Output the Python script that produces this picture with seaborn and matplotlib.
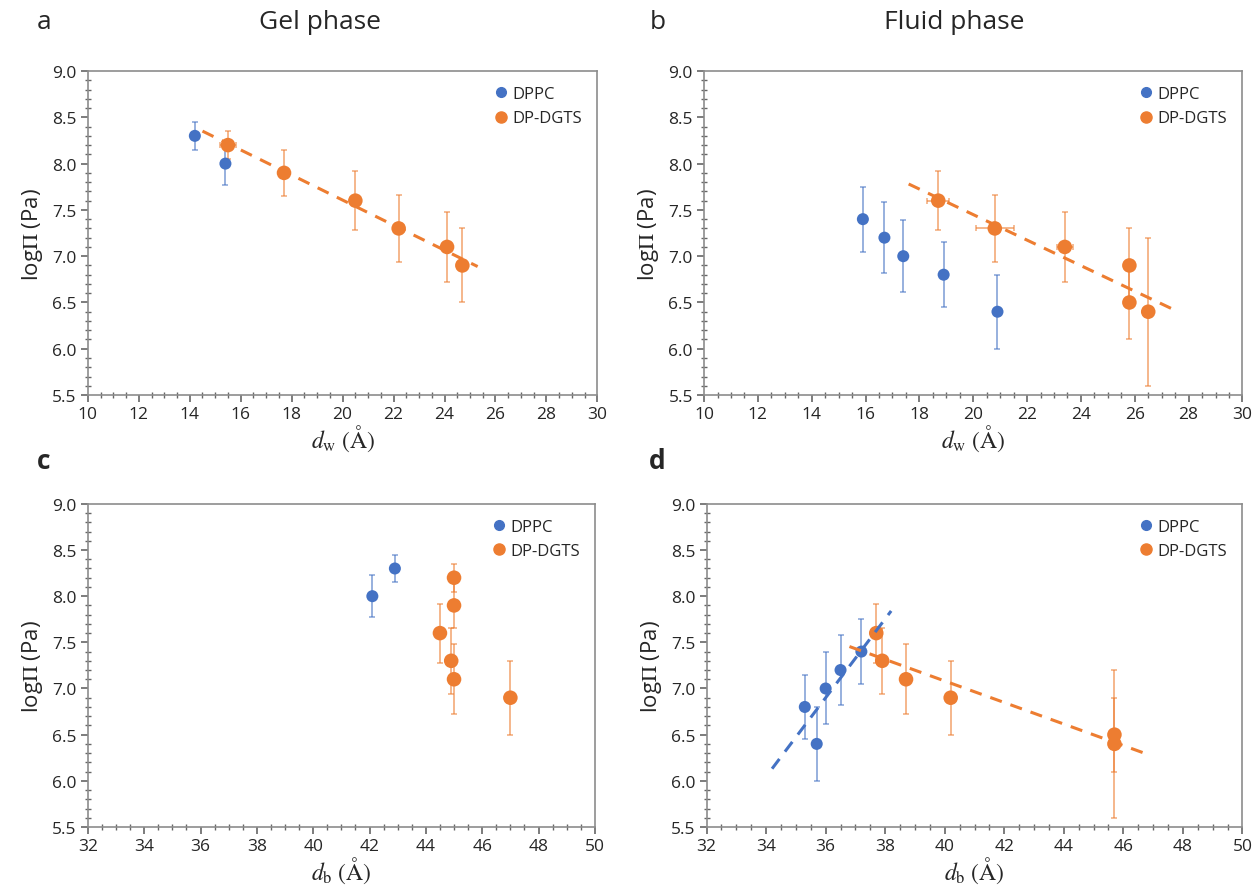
import numpy as np
import pandas as pd
import seaborn as sns
import matplotlib.pyplot as plt
from matplotlib.ticker import MultipleLocator
from matplotlib.lines import Line2D

sns.set_theme(style="white")
plt.rcParams['font.family'] = ['Open Sans', 'DejaVu Sans']
plt.rcParams['mathtext.fontset'] = 'stix'

BLUE = '#4472C4'
ORANGE = '#ED7D31'

# ---- data ----
# a: gel phase vs d_w
a_dppc_x = [14.2, 15.4]
a_dppc_y = [8.3, 8.0]
a_dppc_e = [0.15, 0.23]
a_dgts_x = [15.5, 17.7, 20.5, 22.2, 24.1, 24.7]
a_dgts_y = [8.2, 7.9, 7.6, 7.3, 7.1, 6.9]
a_dgts_e = [0.15, 0.25, 0.32, 0.36, 0.38, 0.4]
a_dgts_xe = [0.3, 0, 0.1, 0, 0, 0]
a_fit_range = [14.5, 25.3]

# b: fluid phase vs d_w
b_dppc_x = [15.9, 16.7, 17.4, 18.9, 20.9]
b_dppc_y = [7.4, 7.2, 7.0, 6.8, 6.4]
b_dppc_e = [0.35, 0.38, 0.39, 0.35, 0.4]
b_dgts_x = [18.7, 20.8, 23.4, 25.8, 25.8, 26.5]
b_dgts_y = [7.6, 7.3, 7.1, 6.9, 6.5, 6.4]
b_dgts_e = [0.32, 0.36, 0.38, 0.4, 0.4, 0.8]
b_dgts_xe = [0.4, 0.7, 0.3, 0, 0, 0]
b_fit_range = [17.6, 27.6]

# c: gel phase vs d_b
c_dppc_x = [42.1, 42.9]
c_dppc_y = [8.0, 8.3]
c_dppc_e = [0.23, 0.15]
c_dgts_x = [45.0, 45.0, 44.5, 44.9, 45.0, 47.0]
c_dgts_y = [8.2, 7.9, 7.6, 7.3, 7.1, 6.9]
c_dgts_e = [0.15, 0.25, 0.32, 0.36, 0.38, 0.4]

# d: fluid phase vs d_b
d_dppc_x = [35.3, 35.7, 36.0, 36.5, 37.2]
d_dppc_y = [6.8, 6.4, 7.0, 7.2, 7.4]
d_dppc_e = [0.35, 0.4, 0.39, 0.38, 0.35]
d_dgts_x = [37.7, 37.9, 38.7, 40.2, 45.7, 45.7]
d_dgts_y = [7.6, 7.3, 7.1, 6.9, 6.5, 6.4]
d_dgts_e = [0.32, 0.36, 0.38, 0.4, 0.4, 0.8]
d_dppc_fit_range = [34.2, 38.2]
d_dgts_fit_range = [36.8, 46.7]

fig = plt.figure(figsize=(12.55, 8.95), dpi=100)
ax_a = fig.add_axes([0.070, 0.5575, 0.406, 0.362])
ax_b = fig.add_axes([0.561, 0.5575, 0.429, 0.362])
ax_c = fig.add_axes([0.070, 0.0749, 0.404, 0.361])
ax_d = fig.add_axes([0.563, 0.0749, 0.427, 0.361])


def draw_series(ax, x, y, e, color, size, xe=None):
    ax.errorbar(x, y, yerr=e, xerr=xe, fmt='none', ecolor=color, alpha=0.6,
                elinewidth=1.3, capsize=2, capthick=1.2, zorder=2)
    df = pd.DataFrame({'x': x, 'y': y})
    sns.scatterplot(data=df, x='x', y='y', ax=ax, color=color, s=size,
                    edgecolor='none', zorder=3)


def draw_fit(ax, x, y, xr, color):
    k, b = np.polyfit(x, y, 1)
    xs = np.array(xr)
    sns.lineplot(x=xs, y=k * xs + b, ax=ax, color=color, lw=2.2,
                 linestyle=(0, (4, 3)), zorder=4)


def style(ax, xlim, xlabel):
    ax.set_xlim(*xlim)
    ax.set_ylim(5.5, 9.0)
    ax.xaxis.set_major_locator(MultipleLocator(2))
    ax.xaxis.set_minor_locator(MultipleLocator(0.5))
    ax.yaxis.set_major_locator(MultipleLocator(0.5))
    ax.yaxis.set_minor_locator(MultipleLocator(0.1))
    ax.set_yticklabels([f'{v:.1f}' for v in ax.get_yticks()])
    for sp in ax.spines.values():
        sp.set_color('#8c8c8c')
        sp.set_linewidth(1.2)
    ax.tick_params(which='major', direction='out', length=5, width=1.2,
                   color='#666666', labelsize=12.5, pad=3, bottom=True, left=True)
    ax.tick_params(which='minor', direction='inout', length=4, width=1,
                   color='#666666', bottom=True, left=True)
    ax.set_xlabel(xlabel, fontsize=17, labelpad=0)
    ax.set_ylabel(r'log$\Pi$ (Pa)', fontsize=16, labelpad=5)
    handles = [Line2D([], [], marker='o', ls='none', color=BLUE, markersize=7),
               Line2D([], [], marker='o', ls='none', color=ORANGE, markersize=8)]
    ax.legend(handles, ['DPPC', 'DP-DGTS'], loc='upper right', frameon=False,
              fontsize=12, handletextpad=0.1, borderaxespad=0.5,
              labelspacing=0.5, handlelength=1.2)


# a
draw_series(ax_a, a_dppc_x, a_dppc_y, a_dppc_e, BLUE, 75)
draw_series(ax_a, a_dgts_x, a_dgts_y, a_dgts_e, ORANGE, 110, a_dgts_xe)
draw_fit(ax_a, a_dgts_x, a_dgts_y, a_fit_range, ORANGE)
style(ax_a, (10, 30), r'$d_{\mathrm{w}}\ (\mathrm{\AA})$')

# b
draw_series(ax_b, b_dppc_x, b_dppc_y, b_dppc_e, BLUE, 75)
draw_series(ax_b, b_dgts_x, b_dgts_y, b_dgts_e, ORANGE, 110, b_dgts_xe)
draw_fit(ax_b, b_dgts_x, b_dgts_y, b_fit_range, ORANGE)
style(ax_b, (10, 30), r'$d_{\mathrm{w}}\ (\mathrm{\AA})$')

# c
draw_series(ax_c, c_dppc_x, c_dppc_y, c_dppc_e, BLUE, 75)
draw_series(ax_c, c_dgts_x, c_dgts_y, c_dgts_e, ORANGE, 110)
style(ax_c, (32, 50), r'$d_{\mathrm{b}}\ (\mathrm{\AA})$')

# d
draw_series(ax_d, d_dppc_x, d_dppc_y, d_dppc_e, BLUE, 75)
draw_series(ax_d, d_dgts_x, d_dgts_y, d_dgts_e, ORANGE, 110)
draw_fit(ax_d, d_dppc_x, d_dppc_y, d_dppc_fit_range, BLUE)
draw_fit(ax_d, d_dgts_x, d_dgts_y, d_dgts_fit_range, ORANGE)
style(ax_d, (32, 50), r'$d_{\mathrm{b}}\ (\mathrm{\AA})$')

# panel letters and titles
fig.text(0.035, 0.975, 'a', fontsize=19, va='center', ha='center')
fig.text(0.524, 0.975, 'b', fontsize=19, va='center', ha='center')
fig.text(0.035, 0.484, 'c', fontsize=19, va='center', ha='center', fontweight='bold')
fig.text(0.524, 0.484, 'd', fontsize=19, va='center', ha='center', fontweight='bold')
fig.text(0.255, 0.975, 'Gel phase', fontsize=19, va='center', ha='center')
fig.text(0.760, 0.975, 'Fluid phase', fontsize=19, va='center', ha='center')

fig.savefig('out.png', dpi=100)
